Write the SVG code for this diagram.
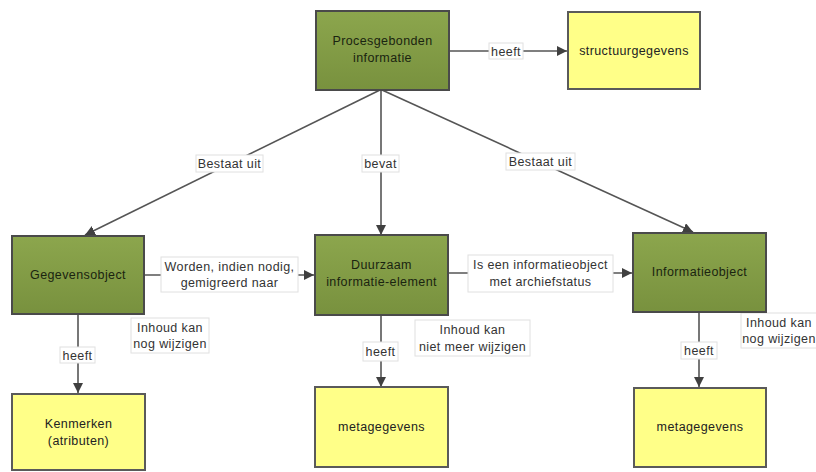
<svg xmlns="http://www.w3.org/2000/svg" width="816" height="472" viewBox="0 0 816 472">
<defs>
<linearGradient id="g" x1="0" y1="0" x2="0" y2="1"><stop offset="0" stop-color="#8ca64d"/><stop offset="1" stop-color="#78913e"/></linearGradient>
<marker id="ah" viewBox="0 0 10 10" refX="10" refY="5" markerWidth="10" markerHeight="10" markerUnits="userSpaceOnUse" orient="auto"><path d="M0,0 L10,5 L0,10 z" fill="#404040"/></marker>
<style>
.g{fill:url(#g);stroke:#4a4a4a;stroke-width:2}
.y{fill:#ffff88;stroke:#5a5a5a;stroke-width:2}
.t{font-family:"Liberation Sans",Arial,sans-serif;font-size:12.5px;letter-spacing:0.4px;fill:#1a2410;text-anchor:middle}
.ty{font-family:"Liberation Sans",Arial,sans-serif;font-size:12.5px;letter-spacing:0.4px;fill:#222;text-anchor:middle}
.e{stroke:#555;stroke-width:1.6;fill:none;marker-end:url(#ah)}
.lb{fill:#fff;stroke:#e0e0e0;stroke-width:1}
.l{font-family:"Liberation Sans",Arial,sans-serif;font-size:12.5px;letter-spacing:0.4px;fill:#333;text-anchor:middle}
</style>
</defs>
<rect width="816" height="472" fill="#fff"/>
<g id="connectors">
<line class="e" x1="449" y1="51" x2="567" y2="51"/>
<line class="e" x1="380" y1="90" x2="85" y2="235"/>
<line class="e" x1="381" y1="90" x2="381" y2="235"/>
<line class="e" x1="382" y1="90" x2="693" y2="232"/>
<line class="e" x1="144" y1="275" x2="314" y2="275"/>
<line class="e" x1="448" y1="273" x2="632" y2="273"/>
<line class="e" x1="78" y1="314" x2="78" y2="393"/>
<line class="e" x1="381" y1="315" x2="381" y2="387"/>
<line class="e" x1="699" y1="312" x2="699" y2="387"/>
<rect class="lb" x="489" y="43" width="34" height="16"/><text class="l" x="506" y="55.5">heeft</text>
<rect class="lb" x="196" y="155" width="67" height="17"/><text class="l" x="229.5" y="167.5">Bestaat uit</text>
<rect class="lb" x="362" y="155" width="37" height="17"/><text class="l" x="380.5" y="167.5">bevat</text>
<rect class="lb" x="506" y="153" width="69" height="17"/><text class="l" x="540.5" y="165.5">Bestaat uit</text>
<rect class="lb" x="161" y="257" width="137" height="35"/><text class="l" x="229.5" y="271">Worden, indien nodig,</text><text class="l" x="229.5" y="287">gemigreerd naar</text>
<rect class="lb" x="468" y="255" width="145" height="37"/><text class="l" x="540.5" y="269">Is een informatieobject</text><text class="l" x="540.5" y="286">met archiefstatus</text>
<rect class="lb" x="60" y="347" width="35" height="16"/><text class="l" x="77.5" y="359.5">heeft</text>
<rect class="lb" x="363" y="342" width="35" height="19"/><text class="l" x="380.5" y="355.5">heeft</text>
<rect class="lb" x="681" y="342" width="36" height="17"/><text class="l" x="699" y="354.5">heeft</text>
<rect class="lb" x="131" y="318" width="78" height="35"/><text class="l" x="170" y="332">Inhoud kan</text><text class="l" x="170" y="348">nog wijzigen</text>
<rect class="lb" x="415" y="320" width="115" height="36"/><text class="l" x="472.5" y="334">Inhoud kan</text><text class="l" x="472.5" y="351">niet meer wijzigen</text>
<rect class="lb" x="741" y="313" width="80" height="35"/><text class="l" x="779" y="327">Inhoud kan</text><text class="l" x="779" y="343">nog wijzigen</text>
</g>
<g id="procesgebonden"><rect class="g" x="316" y="11" width="133" height="79"/><text class="t" x="382.5" y="45">Procesgebonden</text><text class="t" x="382.5" y="62">informatie</text></g>
<g id="structuurgegevens"><rect class="y" x="568" y="12" width="132" height="77"/><text class="ty" x="634" y="55">structuurgegevens</text></g>
<g id="gegevensobject"><rect class="g" x="12" y="236" width="132" height="78"/><text class="t" x="78" y="279">Gegevensobject</text></g>
<g id="duurzaam"><rect class="g" x="315" y="235" width="133" height="80"/><text class="t" x="381.5" y="269">Duurzaam</text><text class="t" x="381.5" y="286">informatie-element</text></g>
<g id="informatieobject"><rect class="g" x="633" y="233" width="133" height="79"/><text class="t" x="699.5" y="276">Informatieobject</text></g>
<g id="kenmerken"><rect class="y" x="12" y="394" width="133" height="76"/><text class="ty" x="78.5" y="428">Kenmerken</text><text class="ty" x="78.5" y="445">(atributen)</text></g>
<g id="metagegevens1"><rect class="y" x="315" y="387" width="133" height="80"/><text class="ty" x="381.5" y="431">metagegevens</text></g>
<g id="metagegevens2"><rect class="y" x="634" y="388" width="132" height="79"/><text class="ty" x="700" y="431">metagegevens</text></g>
</svg>
